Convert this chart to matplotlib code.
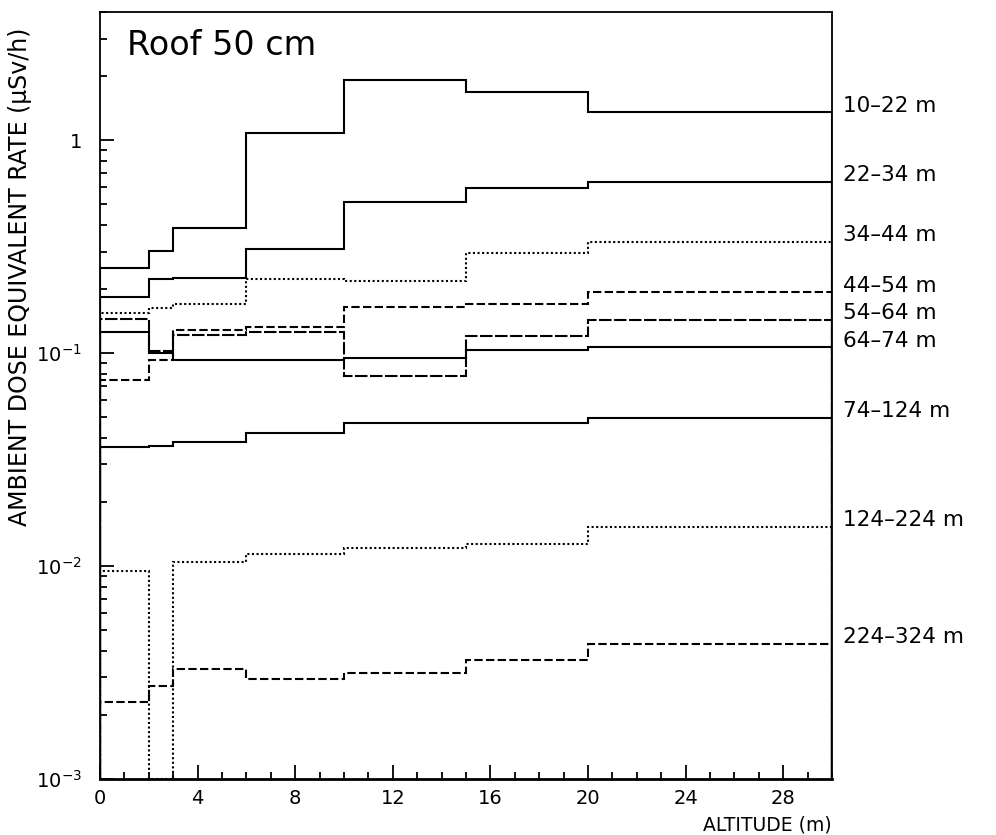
import numpy as np
import matplotlib
matplotlib.use("Agg")
import matplotlib.pyplot as plt
from matplotlib.ticker import LogLocator, FixedLocator, FixedFormatter, MultipleLocator, NullFormatter

plt.rcParams['font.family'] = ['DejaVu Sans']

# ---- data ----
edges = [0, 2, 3, 6, 10, 15, 20, 30]
labels = ["10–22 m", "22–34 m", "34–44 m", "44–54 m", "54–64 m",
          "64–74 m", "74–124 m", "124–224 m", "224–324 m"]
r10_22 = [0.252, 0.302, 0.389, 1.08, 1.92, 1.68, 1.35]
r22_34 = [0.184, 0.224, 0.226, 0.310, 0.513, 0.596, 0.634]
r34_44 = [0.154, 0.163, 0.170, 0.224, 0.218, 0.294, 0.333]
r44_54 = [0.0748, 0.0927, 0.129, 0.133, 0.164, 0.170, 0.193]
r54_64 = [0.145, 0.102, 0.122, 0.125, 0.0778, 0.120, 0.143]
r64_74 = [0.126, 0.100, 0.0931, 0.0924, 0.0947, 0.1037, 0.1067]
r74_124 = [0.0363, 0.0365, 0.0382, 0.0422, 0.0470, 0.0472, 0.0496]
r124_224 = [0.00944, 0.0, 0.0105, 0.0114, 0.0121, 0.0127, 0.0152]
r224_324 = [0.00229, 0.00273, 0.00330, 0.00294, 0.00315, 0.00364, 0.00432]
series = [r10_22, r22_34, r34_44, r44_54, r54_64, r64_74, r74_124, r124_224, r224_324]

ytick_vals = [1e-3, 1e-2, 1e-1, 1]
ytick_labels = [r'$\mathregular{10^{-3}}$', r'$\mathregular{10^{-2}}$',
                r'$\mathregular{10^{-1}}$', '1']
xtick_vals = [0, 4, 8, 12, 16, 20, 24, 28]

YMIN, YMAX = 1e-3, 4.0

# ---- styles ----
solid = dict(linestyle='-')
dotted = dict(linestyle=(0, (1.0, 1.2)))
short_dash = dict(linestyle=(0, (4.0, 1.6)))
long_dash = dict(linestyle=(0, (6.0, 1.2)))
styles = [solid, solid, dotted, short_dash, long_dash, solid, solid, dotted, short_dash]
label_dy = [6, 7, 7, 6, 7, 6, 7, 7, 7]

fig = plt.figure(figsize=(9.96, 8.35), dpi=100)
ax = fig.add_axes([100/996, 1 - 779/835, (832-100)/996, (779-12)/835])
ax.set_yscale('log')
ax.set_xlim(0, 30)
ax.set_ylim(YMIN, YMAX)

for vals, st in zip(series, styles):
    v = np.maximum(np.array(vals, dtype=float), YMIN)
    ax.stairs(v, edges, baseline=YMIN, color='black', linewidth=1.5, **st)

for vals, lab, dy in zip(series, labels, label_dy):
    ax.annotate(lab, xy=(edges[-1], vals[-1]), xytext=(11, dy),
                textcoords='offset pixels', ha='left', va='center',
                fontsize=15.5, annotation_clip=False)

# axes frame
for side in ['top', 'left', 'right']:
    ax.spines[side].set_linewidth(1.3)
ax.spines['bottom'].set_linewidth(2.0)

# ticks
ax.xaxis.set_major_locator(FixedLocator(xtick_vals))
ax.xaxis.set_minor_locator(MultipleLocator(1))
ax.yaxis.set_major_locator(FixedLocator(ytick_vals))
ax.yaxis.set_major_formatter(FixedFormatter(ytick_labels))
ax.yaxis.set_minor_locator(LogLocator(base=10, subs=np.arange(2, 10)))
ax.yaxis.set_minor_formatter(NullFormatter())
ax.tick_params(axis='both', which='both', direction='in', top=False, right=False,
               width=1.3, labelsize=14)
ax.tick_params(axis='both', which='major', length=10)
ax.tick_params(axis='both', which='minor', length=5)
ax.tick_params(axis='x', which='major', pad=7)
ax.tick_params(axis='y', which='major', pad=13)

ax.text(27/732, 0.944, "Roof 50 cm", transform=ax.transAxes, fontsize=24,
        ha='left', va='baseline')

fig.text(20/996, 1 - 28/835, "AMBIENT DOSE EQUIVALENT RATE (μSv/h)", rotation=90,
         ha='center', va='top', fontsize=17)
fig.text(832/996, 1 - 825/835, "ALTITUDE (m)", ha='right', va='center', fontsize=13.5)

fig.savefig("out.png", dpi=100)
